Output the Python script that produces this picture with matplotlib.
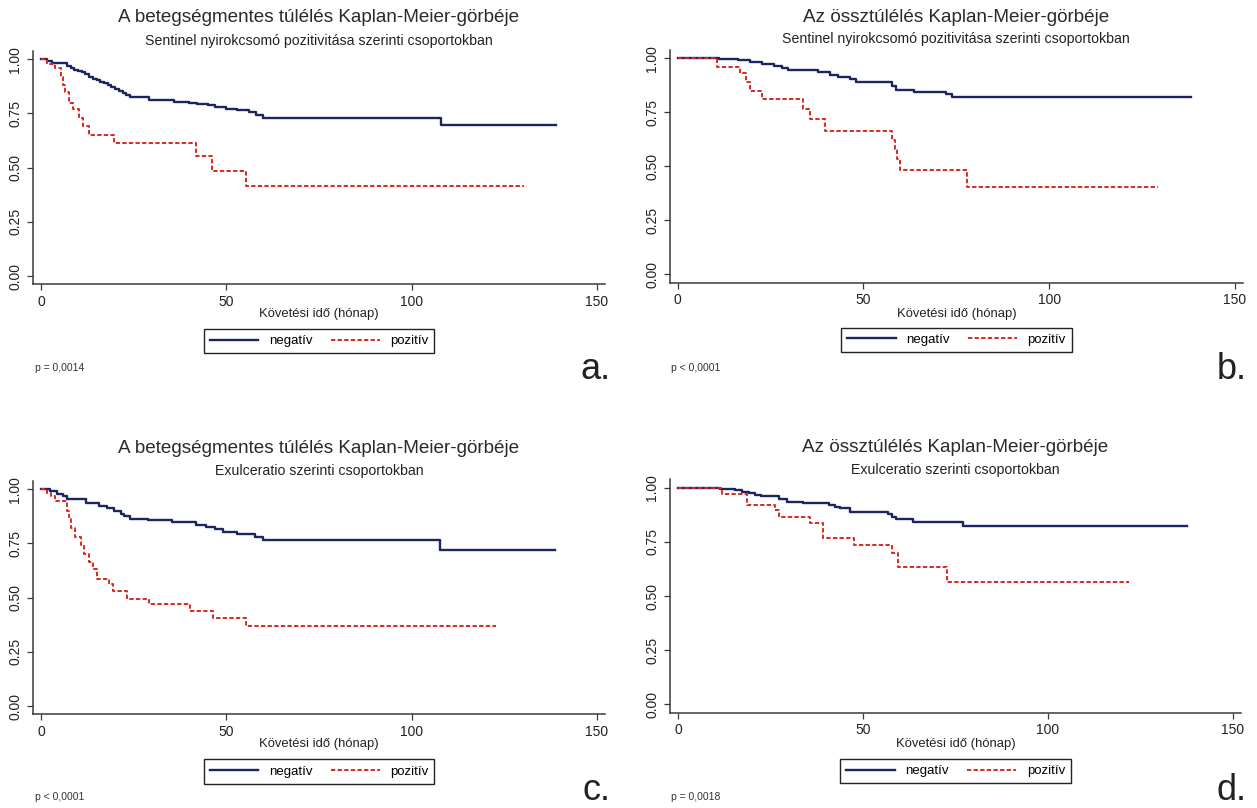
# Kaplan-Meier curves, four panels (a-d), Stata-like look
import numpy as np
import matplotlib
matplotlib.use('Agg')
import matplotlib.pyplot as plt

plt.rcParams['font.family'] = ['Liberation Sans', 'DejaVu Sans']

# --- data (months, survival) ---
# a. betegségmentes túlélés, sentinel
a_neg_t = [0, 1.5, 3, 7, 8, 9, 10, 11, 12, 13, 14, 15, 16, 17, 18, 19, 20, 21, 22, 23, 24,
           29, 36, 40, 42, 45, 47, 50, 53, 56, 58, 60, 108, 139]
a_neg_s = [1.0, 0.99, 0.985, 0.97, 0.96, 0.95, 0.945, 0.94, 0.93, 0.92, 0.91, 0.905, 0.895,
           0.89, 0.88, 0.87, 0.865, 0.855, 0.845, 0.835, 0.825, 0.81, 0.805, 0.80, 0.795,
           0.79, 0.78, 0.77, 0.765, 0.755, 0.745, 0.73, 0.695, 0.695]
a_pos_t = [0, 1.7, 3.9, 5.5, 6.0, 6.5, 7.6, 8.7, 10.3, 11.3, 12.9, 19.8, 41.9, 46.2, 55.4, 130.2]
a_pos_s = [1.0, 0.98, 0.96, 0.92, 0.88, 0.85, 0.80, 0.77, 0.73, 0.69, 0.65, 0.615, 0.555,
           0.485, 0.415, 0.415]

# b. össztúlélés, sentinel
b_neg_t = [0, 11, 16.3, 19.5, 22.8, 26, 28.1, 29.7, 37.8, 41, 43.2, 46.4, 48, 57.7, 58.7,
           63.6, 72.2, 73.8, 138.2]
b_neg_s = [1.0, 0.995, 0.99, 0.985, 0.975, 0.965, 0.955, 0.945, 0.935, 0.925, 0.915, 0.905,
           0.89, 0.87, 0.855, 0.845, 0.835, 0.82, 0.82]
b_pos_t = [0, 10.7, 16.9, 18.5, 19.5, 22.8, 33.8, 35.6, 39.7, 57.7, 58.4, 59, 59.8, 77.8, 129.3]
b_pos_s = [1.0, 0.96, 0.93, 0.89, 0.85, 0.81, 0.765, 0.72, 0.665, 0.62, 0.58, 0.535, 0.485,
           0.405, 0.405]

# c. betegségmentes túlélés, exulceratio
c_neg_t = [0, 2.3, 4.4, 6, 7.1, 12.2, 15.6, 17.7, 19.8, 21.5, 22.5, 24.1, 28.9, 35.3, 41.7,
           44.4, 47, 49.2, 52.9, 57.7, 59.8, 107.6, 138.7]
c_neg_s = [1.0, 0.99, 0.98, 0.97, 0.955, 0.935, 0.925, 0.915, 0.90, 0.885, 0.875, 0.865, 0.86,
           0.85, 0.835, 0.825, 0.815, 0.805, 0.795, 0.78, 0.765, 0.72, 0.72]
c_pos_t = [0, 1.7, 2.8, 3.9, 7.1, 7.6, 8.2, 9.2, 10.8, 11.5, 12.9, 14, 15, 18.3, 19.3, 23.1,
           29.2, 40.1, 46.3, 55.3, 122.8]
c_pos_s = [1.0, 0.985, 0.97, 0.945, 0.90, 0.87, 0.82, 0.78, 0.745, 0.70, 0.665, 0.63, 0.585,
           0.565, 0.53, 0.495, 0.47, 0.44, 0.405, 0.37, 0.37]

# d. össztúlélés, exulceratio
d_neg_t = [0, 11.3, 15.4, 17.2, 19.3, 20.9, 22.5, 27.4, 29.5, 33.8, 40.7, 42.3, 43.9, 46.6,
           56.7, 57.8, 58.9, 63.5, 77, 137.7]
d_neg_s = [1.0, 0.995, 0.99, 0.98, 0.975, 0.965, 0.96, 0.95, 0.935, 0.93, 0.92, 0.91, 0.905,
           0.89, 0.88, 0.865, 0.855, 0.84, 0.825, 0.825]
d_pos_t = [0, 11.9, 18.6, 26.1, 27.4, 35.7, 39.1, 47.6, 57.8, 59.4, 72.8, 121.9]
d_pos_s = [1.0, 0.97, 0.92, 0.895, 0.865, 0.835, 0.77, 0.735, 0.70, 0.635, 0.565, 0.565]

titles = ['A betegségmentes túlélés Kaplan-Meier-görbéje', 'Az össztúlélés Kaplan-Meier-görbéje',
          'A betegségmentes túlélés Kaplan-Meier-görbéje', 'Az össztúlélés Kaplan-Meier-görbéje']
subtitles = ['Sentinel nyirokcsomó pozitivitása szerinti csoportokban',
             'Sentinel nyirokcsomó pozitivitása szerinti csoportokban',
             'Exulceratio szerinti csoportokban', 'Exulceratio szerinti csoportokban']
pvalues = ['p = 0,0014', 'p < 0,0001', 'p < 0,0001', 'p = 0,0018']
letters = ['a.', 'b.', 'c.', 'd.']
group_labels = ['negatív', 'pozitív']
xticks = [0, 50, 100, 150]
yticks = [0, 0.25, 0.5, 0.75, 1.0]
xlabel = 'Követési idő (hónap)'

curves = [(a_neg_t, a_neg_s, a_pos_t, a_pos_s),
          (b_neg_t, b_neg_s, b_pos_t, b_pos_s),
          (c_neg_t, c_neg_s, c_pos_t, c_pos_s),
          (d_neg_t, d_neg_s, d_pos_t, d_pos_s)]

# --- layout (pixels of a 1257x808 canvas) ---
W, H = 1257, 808
XLIM = (-2.2, 152.2)
YLIM = (-0.038, 1.04)
# per panel: pixel x of month 0, px per month, pixel y of 0.00, px per unit
frames = [(41, 3.707, 276, 216.7), (677.7, 3.715, 274.3, 216),
          (41, 3.707, 706, 216.7), (678, 3.70, 704.3, 216.6)]
title_y = [18, 17, 448, 447]
sub_y = [41, 39, 471, 470]
xlab_y = [314, 314, 744, 744]
leg_y = [341, 340, 771.5, 771]
p_xy = [(35, 368), (671, 368), (35, 797), (671, 797)]
let_xy = [(611, 369), (1247, 369), (611, 791), (1247, 791)]

NAVY = '#1c2462'
RED = '#d42a22'

fig = plt.figure(figsize=(W / 100, H / 100), dpi=100)

def fx(px):
    return px / W

def fy(py):
    return 1 - py / H

for i in range(4):
    x0, ppm, y0, ppu = frames[i]
    l = x0 + XLIM[0] * ppm
    r = x0 + XLIM[1] * ppm
    t = y0 - YLIM[1] * ppu
    b = y0 - YLIM[0] * ppu
    ax = fig.add_axes([fx(l), fy(b), (r - l) / W, (b - t) / H])
    nt, ns, pt, ps = curves[i]
    ax.step(nt, ns, where='post', color=NAVY, lw=1.7, label=group_labels[0])
    ax.step(pt, ps, where='post', color=RED, lw=1.4, ls=(0, (2.2, 1.2)), label=group_labels[1])
    ax.set_xlim(*XLIM)
    ax.set_ylim(*YLIM)
    ax.set_xticks(xticks)
    ax.set_yticks(yticks)
    ax.set_yticklabels(['%.2f' % v for v in yticks], rotation=90, va='center')
    ax.spines['top'].set_visible(False)
    ax.spines['right'].set_visible(False)
    for s in ['left', 'bottom']:
        ax.spines[s].set_color('#3a3a3a')
        ax.spines[s].set_linewidth(1.1)
    ax.tick_params(direction='out', length=4, width=0.9, colors='#3a3a3a', labelsize=10,
                   labelcolor='#222222')

    cx = fx((l + r) / 2)
    fig.text(cx, fy(title_y[i]), titles[i], ha='center', va='center', fontsize=13.6,
             color='#2a2a2a')
    fig.text(cx, fy(sub_y[i]), subtitles[i], ha='center', va='center', fontsize=10.2,
             color='#222222')
    fig.text(cx, fy(xlab_y[i]), xlabel, ha='center', va='center', fontsize=9.4, color='#222222')

    leg = fig.legend(*ax.get_legend_handles_labels(), loc='center',
                     bbox_to_anchor=(cx, fy(leg_y[i])), ncol=2, fontsize=9.5,
                     frameon=True, fancybox=False, edgecolor='#222222', framealpha=1,
                     handlelength=3.7, columnspacing=1.4, borderpad=0.45, handletextpad=0.8)
    leg.get_frame().set_linewidth(1.0)

    fig.text(fx(p_xy[i][0]), fy(p_xy[i][1]), pvalues[i], ha='left', va='center',
             fontsize=7.5, color='#333333')
    fig.text(fx(let_xy[i][0]), fy(let_xy[i][1]), letters[i], ha='right', va='center',
             fontsize=26, color='#222222')

plt.savefig('out.png', dpi=100)
